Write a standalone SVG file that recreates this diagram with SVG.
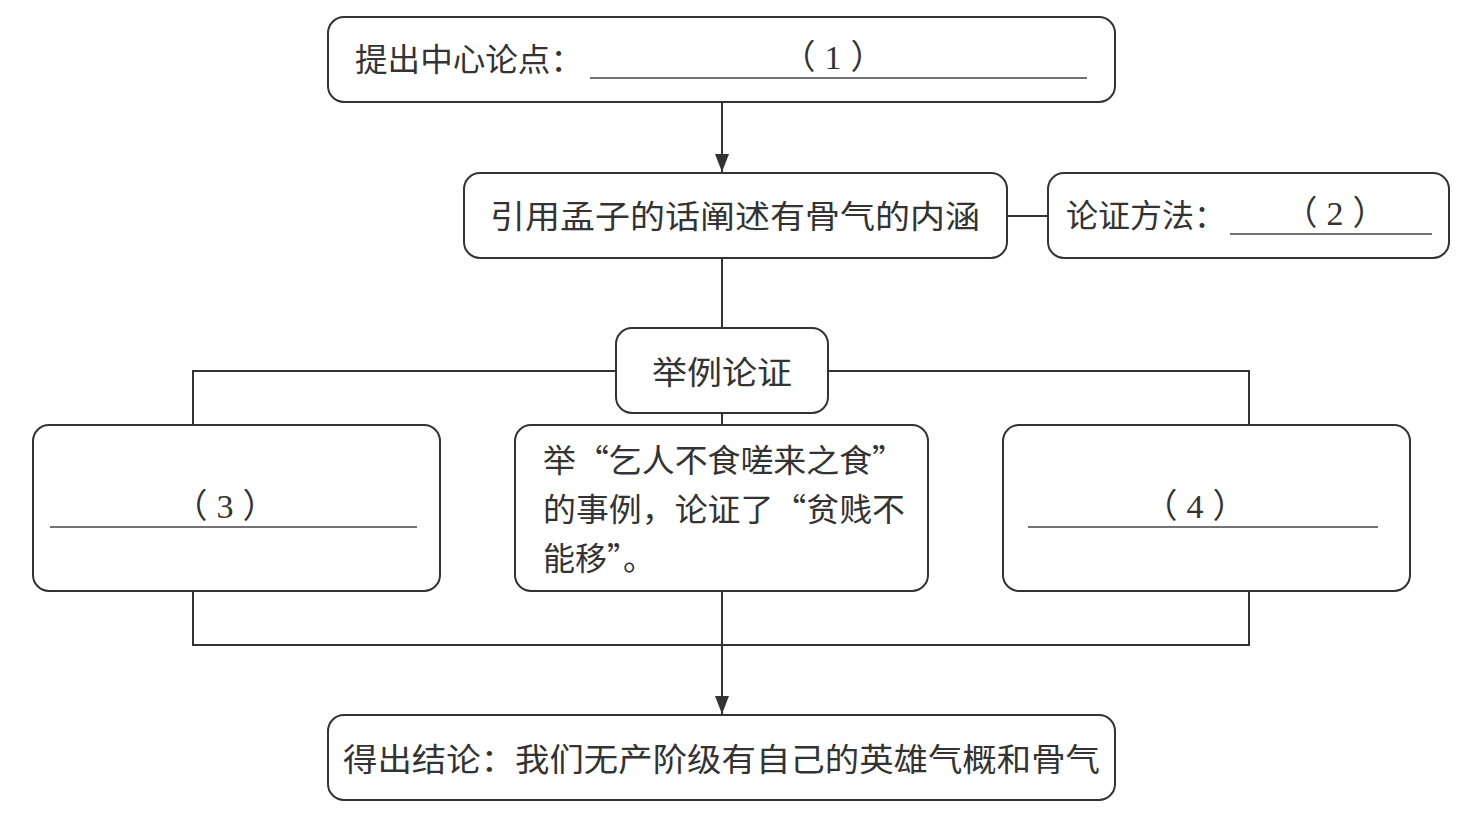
<svg xmlns="http://www.w3.org/2000/svg" width="1482" height="815" viewBox="0 0 1482 815">
<defs>
<style>
.box{fill:#fff;stroke:#333;stroke-width:2}
.t{font-family:"Noto Sans CJK SC","Noto Sans CJK JP",sans-serif;font-size:32px;fill:#333}
.n{font-family:"Liberation Serif","Noto Sans CJK SC",serif;font-size:34px;fill:#333}
.ln{stroke:#333;stroke-width:2;fill:none}
.ul{stroke:#444;stroke-width:1.5}
</style>
<marker id="ah2" viewBox="0 0 18 14" refX="18" refY="7" markerWidth="18" markerHeight="14" markerUnits="userSpaceOnUse" orient="auto">
<path d="M0,0 L18,7 L0,14 z" fill="#333"/>
</marker>
</defs>
<rect width="1482" height="815" fill="#fff"/>
<g id="connectors">
<line class="ln" x1="722" y1="102" x2="722" y2="172" marker-end="url(#ah2)"/>
<line class="ln" x1="1007" y1="216" x2="1048" y2="216"/>
<line class="ln" x1="722" y1="258" x2="722" y2="328"/>
<polyline class="ln" points="193,425 193,371 616,371"/>
<polyline class="ln" points="828,371 1249,371 1249,425"/>
<line class="ln" x1="722" y1="413" x2="722" y2="425"/>
<polyline class="ln" points="193,591 193,645 1249,645 1249,591"/>
<line class="ln" x1="722" y1="591" x2="722" y2="714" marker-end="url(#ah2)"/>
</g>
<g id="n1">
<rect class="box" x="328" y="17" width="787" height="85" rx="16"/>
<text class="t" x="355" y="71" textLength="228" lengthAdjust="spacingAndGlyphs">提出中心论点：</text>
<line class="ul" x1="590" y1="78" x2="1087" y2="78"/>
<text class="n" x="833" y="69" text-anchor="middle"><tspan>（</tspan><tspan dx="9">1</tspan><tspan dx="9">）</tspan></text>
</g>
<g id="n2">
<rect class="box" x="464" y="173" width="543" height="85" rx="16"/>
<text class="t" x="490" y="228" textLength="490" lengthAdjust="spacingAndGlyphs">引用孟子的话阐述有骨气的内涵</text>
</g>
<g id="n3">
<rect class="box" x="1048" y="173" width="401" height="85" rx="16"/>
<text class="t" x="1066" y="227" textLength="160" lengthAdjust="spacingAndGlyphs">论证方法：</text>
<line class="ul" x1="1230" y1="234" x2="1432" y2="234"/>
<text class="n" x="1335" y="225" text-anchor="middle"><tspan>（</tspan><tspan dx="9">2</tspan><tspan dx="9">）</tspan></text>
</g>
<g id="n4">
<rect class="box" x="616" y="328" width="212" height="85" rx="16"/>
<text class="t" x="722" y="384" text-anchor="middle" textLength="140" lengthAdjust="spacingAndGlyphs">举例论证</text>
</g>
<g id="n5">
<rect class="box" x="33" y="425" width="407" height="166" rx="16"/>
<text class="n" x="225" y="518" text-anchor="middle"><tspan>（</tspan><tspan dx="9">3</tspan><tspan dx="9">）</tspan></text>
<line class="ul" x1="50" y1="527" x2="417" y2="527"/>
</g>
<g id="n6">
<rect class="box" x="515" y="425" width="413" height="166" rx="16"/>
<text class="t" x="543" y="472" textLength="362" lengthAdjust="spacingAndGlyphs">举“乞人不食嗟来之食”</text>
<text class="t" x="543" y="521" textLength="362" lengthAdjust="spacingAndGlyphs">的事例，论证了“贫贱不</text>
<text class="t" x="543" y="570">能移”。</text>
</g>
<g id="n7">
<rect class="box" x="1003" y="425" width="407" height="166" rx="16"/>
<text class="n" x="1195" y="518" text-anchor="middle"><tspan>（</tspan><tspan dx="9">4</tspan><tspan dx="9">）</tspan></text>
<line class="ul" x1="1028" y1="527" x2="1378" y2="527"/>
</g>
<g id="n8">
<rect class="box" x="328" y="715" width="787" height="85" rx="16"/>
<text class="t" x="343" y="771" textLength="757" lengthAdjust="spacingAndGlyphs">得出结论：我们无产阶级有自己的英雄气概和骨气</text>
</g>
</svg>
